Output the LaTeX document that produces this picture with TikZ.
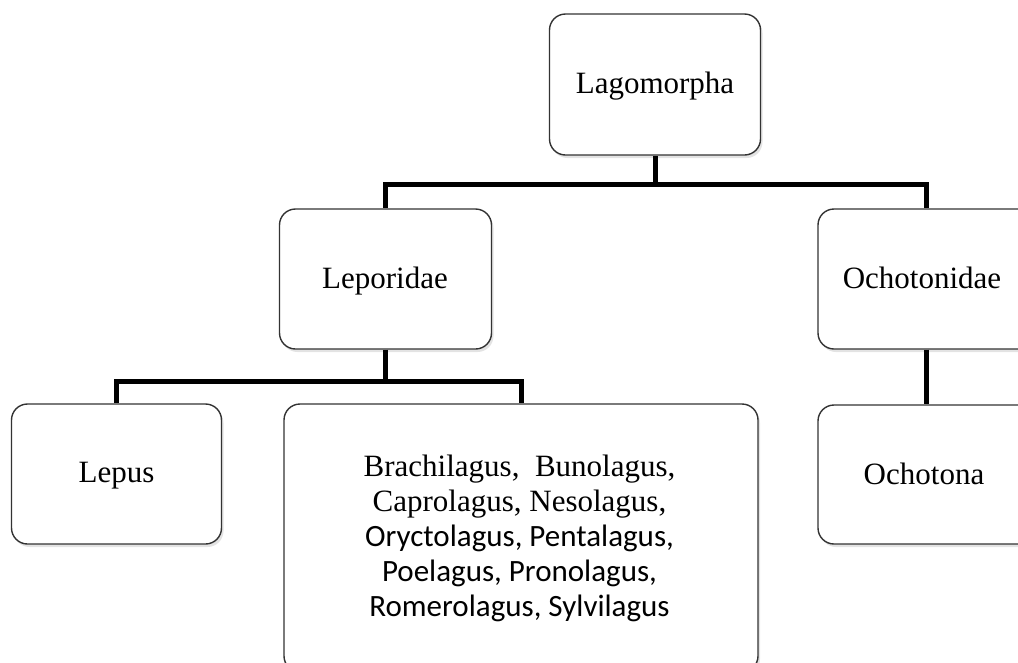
\documentclass[tikz,border=0pt]{standalone}
\usepackage{fontspec}
\setmainfont{Liberation Serif}
\newfontfamily\sansfam{Carlito}
\usetikzlibrary{shadows}
\begin{document}
\begin{tikzpicture}[x=1pt,y=-1pt,
  box/.style={draw=black!80, line width=1.4pt, rounded corners=16pt, fill=white,
    drop shadow={opacity=0.22, shadow xshift=2pt, shadow yshift=-3pt},
    align=center, font=\fontsize{31}{35}\selectfont, inner sep=0pt},
  lbl/.style={font=\fontsize{31}{35}\selectfont, align=center},
  conn/.style={line width=5pt, black}]
\useasboundingbox (0,0) rectangle (1018,662);
\clip (0,0) rectangle (1018,662);
\node[box, minimum width=211pt, minimum height=141pt] (lago) at (655,84.5) {};
\node[lbl] (lagotxt) at (655,86) {Lagomorpha};
\node[box, minimum width=212pt, minimum height=140pt] (lepo) at (385.5,279) {};
\node[lbl] (lepotxt) at (385,281) {Leporidae};
\node[box, minimum width=216pt, minimum height=140pt] (ocho) at (926,279) {};
\node[lbl] (ochotxt) at (922,278) {Ochotonidae};
\node[box, minimum width=210pt, minimum height=140pt] (lepus) at (116.5,474) {};
\node[lbl] (lepustxt) at (116.5,476) {Lepus};
\node[box, minimum width=474pt, minimum height=268pt] (big) at (521,538) {};
\node[lbl] (bigtxt) at (519.5,538) {%
Brachilagus,\ \ Bunolagus,\\
Caprolagus, Nesolagus,\\
{\sansfam\fontsize{31}{35}\selectfont Oryctolagus, Pentalagus,}\\
{\sansfam\fontsize{31}{35}\selectfont Poelagus, Pronolagus,}\\
{\sansfam\fontsize{31}{35}\selectfont Romerolagus, Sylvilagus}};
\node[box, minimum width=216pt, minimum height=139pt] (ochona) at (926,474.5) {};
\node[lbl] (ochonatxt) at (924,474) {Ochotona};
\coordinate (j1) at (655,184);
\coordinate (j2) at (385.5,381);
\draw[conn] (lago.south) -- (j1) -| (lepo.north);
\draw[conn] (j1) -| (ocho.north);
\draw[conn] (lepo.south) -- (j2) -| (lepus.north);
\draw[conn] (j2) -| (big.north);
\draw[conn] (ocho.south) -- (ochona.north);
\end{tikzpicture}
\end{document}
